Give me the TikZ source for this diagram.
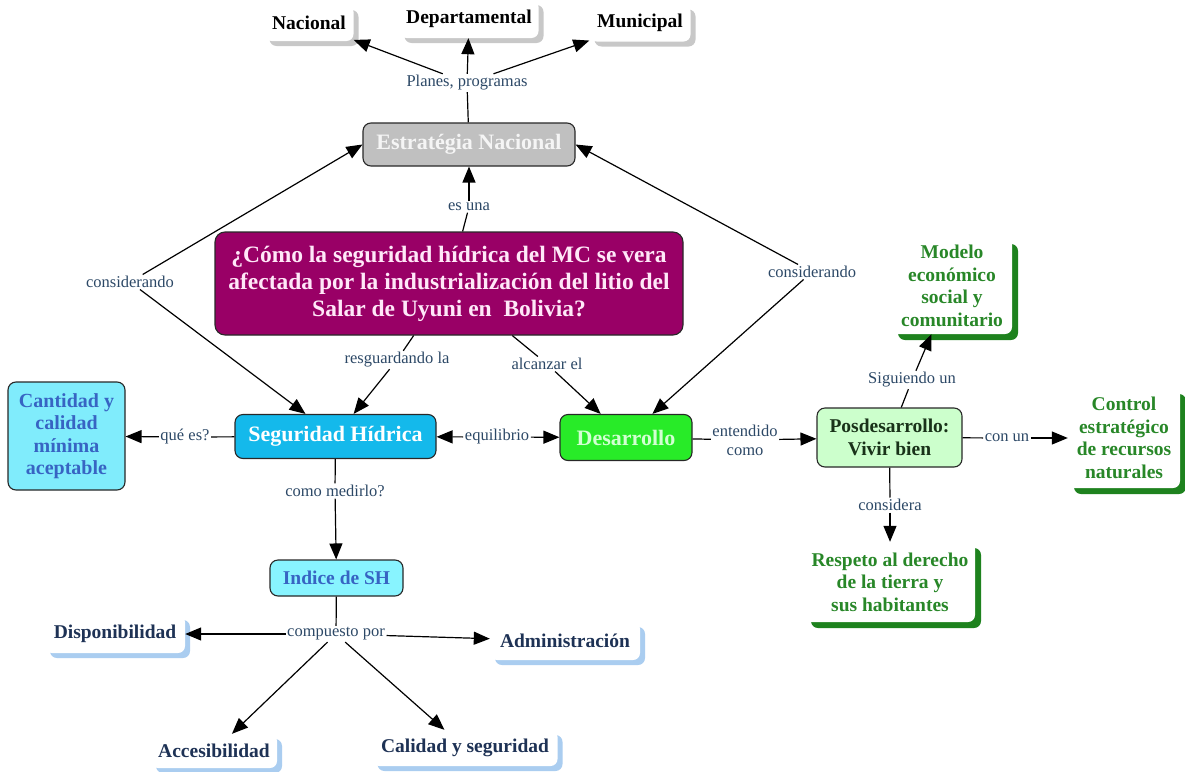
\documentclass[tikz,border=0pt]{standalone}
\usepackage{fontspec}
\setmainfont{Liberation Serif}
\usetikzlibrary{arrows.meta,shadows}
\definecolor{lblc}{RGB}{44,72,102}
\definecolor{bordc}{RGB}{40,40,40}
\definecolor{qfill}{RGB}{153,0,102}
\definecolor{qtext}{RGB}{255,232,248}
\definecolor{estfill}{RGB}{192,192,192}
\definecolor{esttext}{RGB}{245,245,245}
\definecolor{segfill}{RGB}{20,185,235}
\definecolor{cantfill}{RGB}{128,236,252}
\definecolor{indfill}{RGB}{136,244,255}
\definecolor{blutext}{RGB}{55,100,195}
\definecolor{desfill}{RGB}{40,235,40}
\definecolor{destext}{RGB}{210,255,210}
\definecolor{posfill}{RGB}{204,255,204}
\definecolor{postext}{RGB}{25,50,25}
\definecolor{grntext}{RGB}{40,135,40}
\definecolor{grnshad}{RGB}{30,130,30}
\definecolor{navytext}{RGB}{30,50,85}
\definecolor{blushad}{RGB}{170,205,240}
\definecolor{grayshad}{RGB}{200,200,200}
\begin{document}
\begin{tikzpicture}[x=1pt,y=-1pt,
  lbl/.style={font=\fontsize{16.5}{19}\selectfont, text=lblc, inner sep=1.5pt, align=center},
  cbox/.style={draw=bordc, line width=1.1pt, rounded corners=8pt, align=center, inner sep=2pt},
  sbox/.style={fill=white, rounded corners=7pt, align=center, inner sep=2pt,
    font=\fontsize{19.5}{22.5}\selectfont\bfseries,
    drop shadow={shadow xshift=5pt, shadow yshift=-5pt, fill=#1, opacity=1}},
  gbox/.style={fill=white, rounded corners=7pt, align=center, inner sep=2pt,
    font=\fontsize{19.5}{22.5}\selectfont\bfseries, text=grntext,
    drop shadow={shadow xshift=6pt, shadow yshift=-6pt, fill=grnshad, opacity=1}},
  ar/.style={-{Triangle[length=16pt,width=13pt]}, line width=1.2pt},
  ln/.style={line width=1.2pt},
]
\fill[white] (0,0) rectangle (1185,771);
\useasboundingbox (0,0) rectangle (1185,771);

% top level
\node[sbox=grayshad, minimum width=89pt, minimum height=36pt, text=black] (nac) at (309,23) {Nacional};
\node[sbox=grayshad, minimum width=139pt, minimum height=38pt, text=black] (dep) at (469,19) {Departamental};
\node[sbox=grayshad, minimum width=101pt, minimum height=37pt, text=black] (mun) at (640,23) {Municipal};
\node[lbl] (pl) at (467,83) {Planes, programas};

\node[cbox, fill=estfill, text=esttext, minimum width=212pt, minimum height=43pt,
  font=\fontsize{22}{24}\selectfont\bfseries] (est) at (469,144.5) {Estratégia Nacional};
\node[lbl] (esu) at (469,207) {es una};

\node[cbox, fill=qfill, text=qtext, rounded corners=10pt, minimum width=468pt, minimum height=103pt,
  font=\fontsize{23.5}{27}\selectfont\bfseries] (q) at (449,283.5)
  {¿Cómo la seguridad hídrica del MC se vera\\afectada por la industrialización del litio del\\Salar de Uyuni en~ Bolivia?};

\node[lbl] (consL) at (130,282) {considerando};
\node[lbl] (consR) at (812,272) {considerando};
\node[lbl] (res) at (397,360) {resguardando la};
\node[lbl] (alc) at (547,364) {alcanzar el};

% middle row
\node[cbox, fill=segfill, text=white, minimum width=201pt, minimum height=44pt,
  font=\fontsize{22}{24}\selectfont\bfseries] (seg) at (335.5,436.5) {Seguridad Hídrica};
\node[cbox, fill=cantfill, text=blutext, minimum width=117pt, minimum height=108pt,
  font=\fontsize{20}{22.5}\selectfont\bfseries] (cant) at (66.5,436) {Cantidad y\\calidad\\mínima\\aceptable};
\node[lbl] (que) at (185,437) {qué es?};
\node[lbl] (equ) at (497,437) {equilibrio};
\node[cbox, fill=desfill, text=destext, minimum width=132pt, minimum height=46pt,
  font=\fontsize{22}{24}\selectfont\bfseries] (des) at (626,437.5) {Desarrollo};
\node[lbl, font=\fontsize{16.5}{19}\selectfont] (ent) at (745,440) {entendido\\como};
\node[cbox, fill=posfill, text=postext, minimum width=145pt, minimum height=59pt,
  font=\fontsize{19.5}{23}\selectfont\bfseries] (pos) at (889.5,437.5) {Posdesarrollo:\\Vivir bien};
\node[lbl] (conun) at (1007,438) {con un};
\node[gbox, minimum width=112pt, minimum height=100pt] (ctrl) at (1124,438)
  {Control\\estratégico\\de recursos\\naturales};
\node[lbl] (sig) at (912,380) {Siguiendo un};
\node[gbox, minimum width=120pt, minimum height=96pt] (mod) at (952,286)
  {Modelo\\económico\\social y\\comunitario};
\node[lbl] (cons) at (890,505) {considera};
\node[gbox, minimum width=170pt, minimum height=80pt] (resp) at (890,582)
  {Respeto al derecho\\de la tierra y\\sus habitantes};

% lower part
\node[lbl] (med) at (335,491) {como medirlo?};
\node[cbox, fill=indfill, text=blutext, minimum width=133pt, minimum height=36pt,
  font=\fontsize{19.5}{22}\selectfont\bfseries] (ind) at (336.5,578) {Indice de SH};
\node[lbl] (cp) at (336,634) {compuesto por};
\node[sbox=blushad, text=navytext, minimum width=140pt, minimum height=38pt] (disp) at (115,634) {Disponibilidad};
\node[sbox=blushad, text=navytext, minimum width=150pt, minimum height=38pt] (adm) at (565,641) {Administración};
\node[sbox=blushad, text=navytext, minimum width=126pt, minimum height=34pt] (acc) at (214,751) {Accesibilidad};
\node[sbox=blushad, text=navytext, minimum width=185pt, minimum height=36pt] (cal) at (465,748) {Calidad y seguridad};

% connectors
\draw[ln] (est) -- (pl);
\draw[ar] (pl) -- (nac);
\draw[ar] (pl) -- (dep);
\draw[ar] (pl) -- (mun);
\draw[ln] (q) -- (esu);
\draw[ar] (esu) -- (est);
\draw[ar] (consL) -- (est.west);
\draw[ar] (consL) -- (seg);
\draw[ar] (consR) -- (est.east);
\draw[ar] (consR) -- (des);
\draw[ln] (q) -- (res);
\draw[ar] (res) -- (seg);
\draw[ln] (q) -- (alc);
\draw[ar] (alc) -- (des);
\draw[ln] (seg) -- (que);
\draw[ar] (que) -- (cant);
\draw[ar] (equ) -- (seg);
\draw[ar] (equ) -- (des);
\draw[ln] (des) -- (ent);
\draw[ar] (ent) -- (pos);
\draw[ln] (pos) -- (conun);
\draw[ar] (conun) -- (ctrl);
\draw[ln] (pos) -- (sig);
\draw[ar] (sig) -- (mod);
\draw[ln] (pos) -- (cons);
\draw[ar] (cons) -- (resp);
\draw[ln] (seg) -- (med);
\draw[ar] (med) -- (ind);
\draw[ln] (ind) -- (cp);
\draw[ar] (cp) -- (disp);
\draw[ar] (cp) -- (adm);
\draw[ar] (cp) -- (acc);
\draw[ar] (cp) -- (cal);
\end{tikzpicture}
\end{document}
